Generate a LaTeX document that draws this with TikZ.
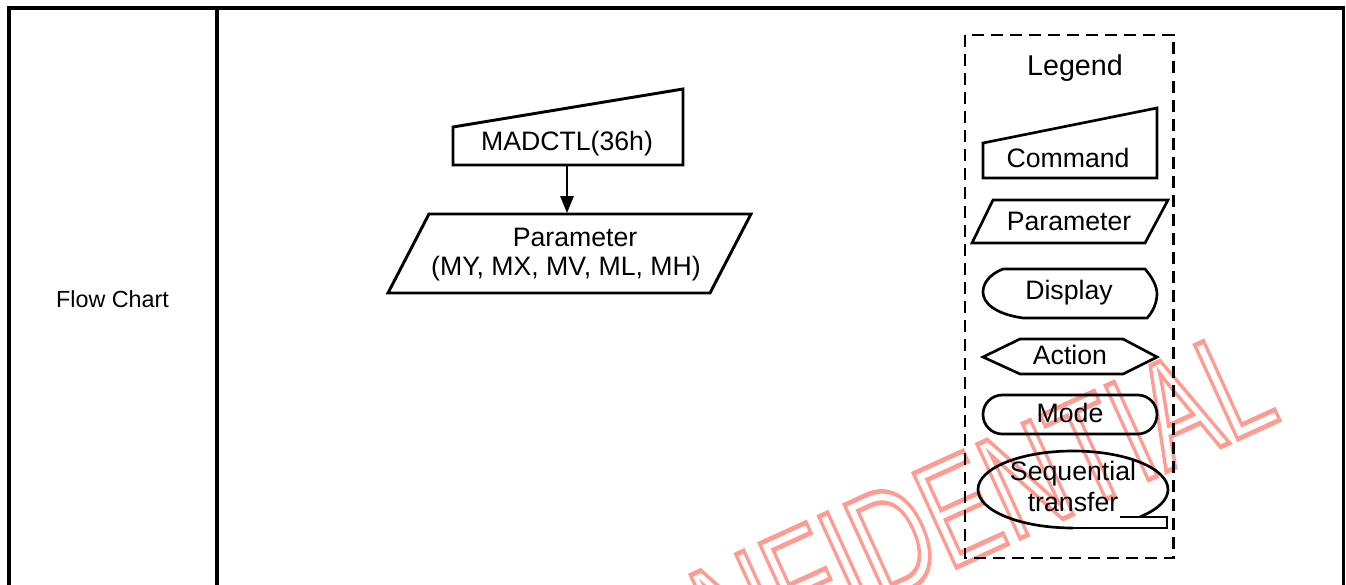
\documentclass[tikz,border=0pt]{standalone}
\usepackage{fontspec}
\setmainfont{Liberation Sans}
\usetikzlibrary{arrows.meta}
\definecolor{wm}{RGB}{255,155,145}
\begin{document}
\begin{tikzpicture}[x=0.75pt,y=-0.75pt,
  frame/.style={line width=2.6pt},
  shp/.style={line width=2.2pt, line join=miter},
  lshp/.style={line width=2pt, line join=miter},
  lbl/.style={font=\fontsize{20}{24}\selectfont, inner sep=0pt, anchor=base},
]
\useasboundingbox (0,0) rectangle (1346,585);

% watermark (outlined text)
\node[anchor=base west, rotate=24.5, xscale=0.70, inner sep=0pt, text=wm,
      font=\fontsize{112.5}{114}\selectfont] (wmk) at (582,738)
  {\special{pdf:literal direct 1 Tr 3.5 w}CONFIDENTIAL\special{pdf:literal direct 0 Tr}};

% table frame
\draw[frame] (9,600) -- (9,8) -- (1343.5,8) -- (1343.5,600);
\draw[frame] (217,8) -- (217,600);
\node[lbl, font=\fontsize{17.5}{20}\selectfont] (fc) at (112.5,307.3) {Flow Chart};

% flow chart
\draw[shp] (453,127) -- (683,89) -- (683,165) -- (453,165) -- cycle;
\node[lbl] (cmd) at (567,150) {MADCTL(36h)};
\draw[shp] (429,214) -- (751,214) -- (710,293) -- (388,293) -- cycle;
\node[lbl] (par1) at (575,246.7) {Parameter};
\node[lbl] (par2) at (566,275) {(MY, MX, MV, ML, MH)};
\coordinate (cmdB) at (567,165);
\coordinate (parT) at (567,213);
\draw[line width=1.5pt, -{Triangle[length=12.75pt,width=10pt]}] (cmdB) -- (parT);

% legend
\draw[line width=2.2pt, dash pattern=on 9pt off 5.25pt] (965,35) rectangle (1173.5,558);
\node[lbl, font=\fontsize{21.5}{24}\selectfont] (leg) at (1075,75) {Legend};

\draw[lshp] (983,143) -- (1157,108) -- (1157,178) -- (983,178) -- cycle;
\node[lbl] (lcmd) at (1068,167) {Command};

\draw[lshp] (993,200) -- (1168,200) -- (1145,243) -- (972,243) -- cycle;
\node[lbl] (lpar) at (1069,230) {Parameter};

\draw[lshp] (1003,269) -- (1145,269) .. controls (1152,277) and (1157,286) .. (1157,294)
  .. controls (1157,302) and (1153,312) .. (1147,318) -- (1023,318)
  .. controls (995,314) and (983,303) .. (983,292)
  .. controls (983,283) and (990,274) .. (1003,269) -- cycle;
\node[lbl] (ldisp) at (1069,299.3) {Display};

\draw[lshp] (983,357) -- (1020,339) -- (1123,339) -- (1157,357) -- (1123,374) -- (1020,374) -- cycle;
\node[lbl] (lact) at (1070,364.3) {Action};

\draw[lshp, rounded corners=14.5pt] (983,395) rectangle (1157,434);
\node[lbl] (lmode) at (1070,422.3) {Mode};

\draw[lshp] (1073,528) arc[start angle=90, end angle=405, x radius=95, y radius=38.5];
\draw[lshp] (1120,517) -- (1167,517) -- (1167,528) -- (1073,528);
\node[lbl] (lseq1) at (1073,480) {Sequential};
\node[lbl] (lseq2) at (1073,511.7) {transfer};
\end{tikzpicture}
\end{document}
